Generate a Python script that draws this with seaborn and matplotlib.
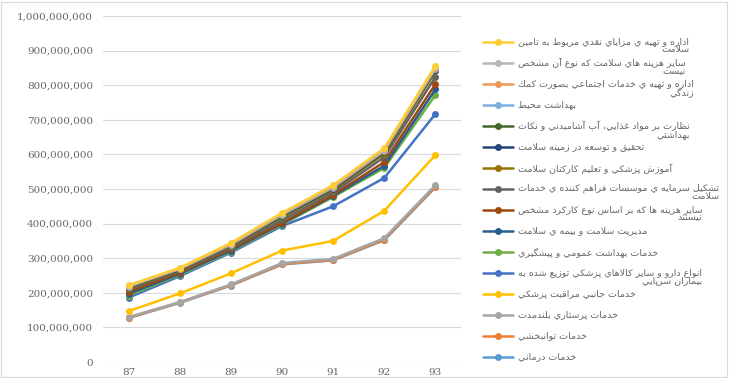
import numpy as np
import pandas as pd
import matplotlib
matplotlib.use("Agg")
import matplotlib.pyplot as plt
from matplotlib.lines import Line2D
from matplotlib.patches import Rectangle
import seaborn as sns

# Data: per-series spending (millions), stacked like the Excel "stacked line" chart
years = ["87", "88", "89", "90", "91", "92", "93"]

series_names = [
    "خدمات درماني",
    "خدمات توانبخشي",
    "خدمات پرستاري بلندمدت",
    "خدمات جانبي مراقبت پزشكي",
    "انواع دارو و ساير كالاهاي پزشكي توزيع شده به\nبيماران سرپايي",
    "خدمات بهداشت عمومي و پيشگيري",
    "مديريت سلامت و بيمه ي سلامت",
    "ساير هزينه ها كه بر اساس نوع كاركرد مشخص\nنيستند",
    "تشكيل سرمايه ي موسسات فراهم كننده ي خدمات\nسلامت",
    "آموزش پزشكي و تعليم كاركنان سلامت",
    "تحقيق و توسعه در زمينه سلامت",
    "نظارت بر مواد غذايي، آب آشاميدني و نكات\nبهداشتي",
    "بهداشت محيط",
    "اداره و تهيه ي خدمات اجتماعي بصورت كمك\nزندگي",
    "ساير هزينه هاي سلامت كه نوع آن مشخص\nنيست",
    "اداره و تهيه ي مزاياي نقدي مربوط به تامين\nسلامت",
]

treatment = [127, 171, 221, 282, 294, 352, 505]
rehab = [1, 1, 1, 1, 1, 2, 2]
nursing = [2, 1, 2, 3, 3, 4, 4]
ancillary = [17, 25, 32, 36, 52, 79, 87]
drugs = [39, 50, 60, 71, 100, 95, 119]
public_health = [6, 4, 3, 4, 27, 29, 55]
administration = [5, 3, 3, 3, 3, 6, 16]
other_function = [6, 3, 4, 2, 3, 11, 15]
capital = [7, 4, 4, 8, 7, 14, 21]
education = [4, 3, 5, 8, 7, 10, 16]
research = [2, 2, 2, 3, 3, 4, 4]
food_control = [1, 1, 1, 2, 2, 2, 2]
environment = [1, 1, 1, 2, 2, 2, 2]
social_care = [1, 1, 1, 2, 2, 2, 2]
other_health = [1, 1, 2, 2, 3, 3, 3]
cash_benefits = [2, 1, 2, 2, 2, 3, 3]

colors = ["#5B9BD5", "#ED7D31", "#A5A5A5", "#FFC000", "#4472C4", "#70AD47",
          "#255E91", "#9E480E", "#636363", "#997300", "#264478", "#43682B",
          "#7CAFDD", "#F1975A", "#B7B7B7", "#FFCD33"]

values = np.array([treatment, rehab, nursing, ancillary, drugs, public_health,
                   administration, other_function, capital, education, research,
                   food_control, environment, social_care, other_health,
                   cash_benefits], dtype=float) * 1e6
stacked = values.cumsum(axis=0)

# --- minimal Arabic/Persian shaping so matplotlib joins letters properly ---
FORMS = {
    'آ': '\uFE81\uFE82', 'ا': '\uFE8D\uFE8E', 'ب': '\uFE8F\uFE90\uFE91\uFE92',
    'ت': '\uFE95\uFE96\uFE97\uFE98', 'ث': '\uFE99\uFE9A\uFE9B\uFE9C',
    'ج': '\uFE9D\uFE9E\uFE9F\uFEA0', 'ح': '\uFEA1\uFEA2\uFEA3\uFEA4',
    'خ': '\uFEA5\uFEA6\uFEA7\uFEA8', 'د': '\uFEA9\uFEAA', 'ذ': '\uFEAB\uFEAC',
    'ر': '\uFEAD\uFEAE', 'ز': '\uFEAF\uFEB0', 'س': '\uFEB1\uFEB2\uFEB3\uFEB4',
    'ش': '\uFEB5\uFEB6\uFEB7\uFEB8', 'ص': '\uFEB9\uFEBA\uFEBB\uFEBC',
    'ض': '\uFEBD\uFEBE\uFEBF\uFEC0', 'ط': '\uFEC1\uFEC2\uFEC3\uFEC4',
    'ظ': '\uFEC5\uFEC6\uFEC7\uFEC8', 'ع': '\uFEC9\uFECA\uFECB\uFECC',
    'غ': '\uFECD\uFECE\uFECF\uFED0', 'ف': '\uFED1\uFED2\uFED3\uFED4',
    'ق': '\uFED5\uFED6\uFED7\uFED8', 'ك': '\uFED9\uFEDA\uFEDB\uFEDC',
    'ل': '\uFEDD\uFEDE\uFEDF\uFEE0', 'م': '\uFEE1\uFEE2\uFEE3\uFEE4',
    'ن': '\uFEE5\uFEE6\uFEE7\uFEE8', 'ه': '\uFEE9\uFEEA\uFEEB\uFEEC',
    'و': '\uFEED\uFEEE', 'ي': '\uFEF1\uFEF2\uFEF3\uFEF4',
    'پ': '\uFB56\uFB57\uFB58\uFB59', 'چ': '\uFB7A\uFB7B\uFB7C\uFB7D',
    'ژ': '\uFB8A\uFB8B', 'گ': '\uFB92\uFB93\uFB94\uFB95',
}
LAM_ALEF = {'ا': '\uFEFB\uFEFC', 'آ': '\uFEF5\uFEF6'}


def shape_line(text):
    out = []
    n = len(text)
    i = 0
    while i < n:
        c = text[i]
        if c not in FORMS:
            out.append(c)
            i += 1
            continue
        prev = text[i - 1] if i > 0 else ''
        jp = prev in FORMS and len(FORMS[prev]) == 4
        if c == 'ل' and i + 1 < n and text[i + 1] in LAM_ALEF:
            f = LAM_ALEF[text[i + 1]]
            out.append(f[1] if jp else f[0])
            i += 2
            continue
        nxt = text[i + 1] if i + 1 < n else ''
        f = FORMS[c]
        jn = len(f) == 4 and nxt in FORMS
        if jp and jn:
            g = f[3]
        elif jp:
            g = f[1]
        elif jn:
            g = f[2]
        else:
            g = f[0]
        out.append(g)
        i += 1
    return ''.join(reversed(out))


def shape(text):
    return '\n'.join(shape_line(t) for t in text.split('\n'))


# long table for seaborn
rows = []
for name, vals in zip(series_names, stacked):
    for xi, v in enumerate(vals):
        rows.append({"x": xi, "value": v, "series": name})
df = pd.DataFrame(rows)

sns.set_theme(style="white")
plt.rcParams['font.family'] = ['DejaVu Sans']

W, H = 729, 378
fig = plt.figure(figsize=(W / 100, H / 100), dpi=100)
fig.patch.set_facecolor("white")
fig.add_artist(Rectangle((1 / W, 1 / H), (W - 3) / W, (H - 3) / H, transform=fig.transFigure,
                         fill=False, edgecolor="#D9D9D9", linewidth=0.8))

ax = fig.add_axes([103 / W, 1 - 362 / H, (461 - 103) / W, (362 - 16) / H])
sns.lineplot(data=df, x="x", y="value", hue="series", hue_order=series_names,
             palette=colors, marker="o", markersize=5, markeredgewidth=0,
             linewidth=1.8, legend=False, sort=False, ax=ax)

ax.set_xlim(-0.5, len(years) - 0.5)
ax.set_ylim(0, 1e9)
ax.set_xticks(range(len(years)))
ax.set_xticklabels(years)
yt = np.arange(0, 1.0e9 + 1, 1e8)
ax.set_yticks(yt)
ax.set_yticklabels([f"{int(v):,}" for v in yt])
ax.set_xlabel("")
ax.set_ylabel("")
ax.grid(axis="y", color="#D9D9D9", linewidth=0.8)
ax.grid(axis="x", visible=False)
for s in ax.spines.values():
    s.set_visible(False)
ax.tick_params(axis="y", length=0, pad=7, labelsize=7.5, labelcolor="#666666")
ax.tick_params(axis="x", length=0, pad=4, labelsize=7.5, labelcolor="#666666")
for lab in ax.get_xticklabels() + ax.get_yticklabels():
    lab.set_family("DejaVu Serif")

# legend drawn Excel-style: evenly spaced, RTL text right of the marker
for i, idx in enumerate(range(len(series_names) - 1, -1, -1)):
    y = 1 - (42 + 21 * i) / H
    fig.add_artist(Line2D([483 / W, 498 / W, 513 / W], [y, y, y], transform=fig.transFigure,
                          color=colors[idx], linewidth=1.8, marker="o", markersize=5,
                          markeredgewidth=0, markevery=[1]))
    fig.text(518 / W, y + 5 / H, shape(series_names[idx]), ha="left", va="top",
             fontsize=6.8, color="#666666", multialignment="right", linespacing=0.85,
             family="DejaVu Sans")

fig.savefig("out.png", dpi=100)
